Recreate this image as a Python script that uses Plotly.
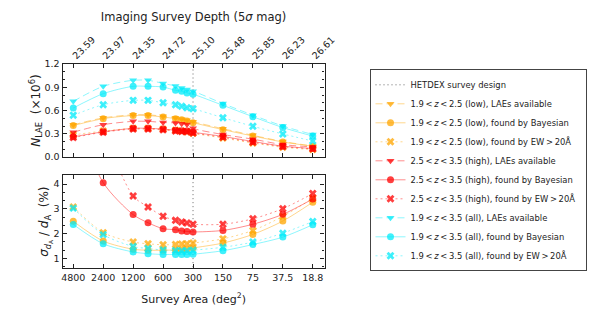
import plotly.graph_objects as go

# ---------------- data ----------------
area = [4800, 2400, 1200, 850, 600, 450, 390, 345, 300, 150, 75, 37.5, 18.75]
area_ticks = [4800, 2400, 1200, 600, 300, 150, 75, 37.5, 18.75]
area_ticklabels = ["4800", "2400", "1200", "600", "300", "150", "75", "37.5", "18.8"]
depth_ticklabels = ["23.59", "23.97", "24.35", "24.72", "25.10", "25.48", "25.85", "26.23", "26.61"]
hetdex_area = 300

# N_LAE (x 10^6)
low_avail = [0.415, 0.505, 0.545, 0.545, 0.525, 0.505, 0.49, 0.475, 0.455, 0.365, 0.28, 0.20, 0.142]
low_bayes = [0.405, 0.495, 0.535, 0.535, 0.516, 0.495, 0.482, 0.465, 0.443, 0.353, 0.271, 0.194, 0.138]
low_ew = [0.285, 0.335, 0.37, 0.37, 0.36, 0.345, 0.335, 0.325, 0.305, 0.245, 0.18, 0.125, 0.095]
high_avail = [0.32, 0.417, 0.46, 0.46, 0.445, 0.44, 0.43, 0.42, 0.37, 0.29, 0.23, 0.16, 0.13]
high_bayes = [0.26, 0.325, 0.37, 0.37, 0.36, 0.345, 0.34, 0.335, 0.32, 0.265, 0.20, 0.14, 0.11]
high_ew = [0.25, 0.32, 0.36, 0.36, 0.35, 0.335, 0.33, 0.325, 0.31, 0.255, 0.19, 0.135, 0.105]
all_avail = [0.718, 0.912, 0.99, 0.99, 0.95, 0.916, 0.89, 0.87, 0.85, 0.69, 0.54, 0.40, 0.29]
all_bayes = [0.632, 0.817, 0.912, 0.912, 0.903, 0.86, 0.848, 0.826, 0.81, 0.667, 0.52, 0.38, 0.27]
all_ew = [0.538, 0.675, 0.731, 0.731, 0.70, 0.675, 0.654, 0.636, 0.623, 0.507, 0.396, 0.297, 0.206]

# sigma_dA / dA (%)
low_bayes_err = [2.50, 1.70, 1.37, 1.33, 1.33, 1.34, 1.35, 1.37, 1.42, 1.62, 1.97, 2.51, 3.27]
low_ew_err = [3.08, 2.04, 1.66, 1.59, 1.55, 1.56, 1.58, 1.59, 1.62, 1.79, 2.13, 2.70, 3.43]
high_bayes_err = [7.0, 4.06, 2.77, 2.44, 2.20, 2.16, 2.11, 2.09, 2.07, 2.13, 2.38, 2.78, 3.40]
high_ew_err = [12.0, 6.3, 3.52, 3.08, 2.70, 2.54, 2.47, 2.43, 2.38, 2.38, 2.60, 3.01, 3.62]
all_bayes_err = [2.37, 1.59, 1.26, 1.19, 1.16, 1.16, 1.16, 1.16, 1.17, 1.31, 1.56, 1.86, 2.36]
all_ew_err = [3.03, 1.96, 1.48, 1.40, 1.34, 1.32, 1.31, 1.31, 1.33, 1.45, 1.66, 2.02, 2.49]

ORANGE = "rgba(255,165,0,{a})"
RED = "rgba(255,0,0,{a})"
CYAN = "rgba(0,235,250,{a})"

FONT = "DejaVu Sans"
W, H = 598, 313
OFF = 8  # page body margin offset


def px(xp):
    return (xp - OFF) / W


def py(yp):
    return (H - (yp - OFF)) / H


fig = go.Figure()


def add(xs, ys, color, symbol, dash, name, yaxis, showlegend):
    fig.add_trace(go.Scatter(
        x=xs, y=ys, mode="lines+markers", name=name,
        xaxis="x" if yaxis == "y" else "x2", yaxis=yaxis,
        line=dict(color=color.format(a=0.45), width=1, dash=dash, shape="spline", smoothing=0.8),
        marker=dict(symbol=symbol, size=7, color=color.format(a=0.75),
                    line=dict(width=0)),
        showlegend=showlegend, cliponaxis=True,
    ))


# HETDEX line
fig.add_trace(go.Scatter(x=[hetdex_area, hetdex_area], y=[-1, 2], mode="lines",
                         name="HETDEX survey design", xaxis="x", yaxis="y",
                         line=dict(color="rgba(90,90,90,0.9)", width=1, dash="1px,3px")))
fig.add_trace(go.Scatter(x=[hetdex_area, hetdex_area], y=[0, 20], mode="lines",
                         xaxis="x2", yaxis="y2", showlegend=False,
                         line=dict(color="rgba(90,90,90,0.9)", width=1, dash="1px,3px")))

DASH = "7px,4px"
DOT = "2px,3px"
TS = "&#8201;"
LT = TS + "&lt;" + TS
GT = TS + "&gt;" + TS
PAD = "&nbsp;&nbsp;"
series = [
    (low_avail, None, ORANGE, "triangle-down", DASH, f"1.9{LT}<i>z</i>{LT}2.5 (low), LAEs available"),
    (low_bayes, low_bayes_err, ORANGE, "circle", "solid", f"1.9{LT}<i>z</i>{LT}2.5 (low), found by Bayesian"),
    (low_ew, low_ew_err, ORANGE, "x", DOT, f"1.9{LT}<i>z</i>{LT}2.5 (low), found by EW{GT}20Å"),
    (high_avail, None, RED, "triangle-down", DASH, f"2.5{LT}<i>z</i>{LT}3.5 (high), LAEs available"),
    (high_bayes, high_bayes_err, RED, "circle", "solid", f"2.5{LT}<i>z</i>{LT}3.5 (high), found by Bayesian"),
    (high_ew, high_ew_err, RED, "x", DOT, f"2.5{LT}<i>z</i>{LT}3.5 (high), found by EW{GT}20Å{PAD}"),
    (all_avail, None, CYAN, "triangle-down", DASH, f"1.9{LT}<i>z</i>{LT}3.5 (all), LAEs available"),
    (all_bayes, all_bayes_err, CYAN, "circle", "solid", f"1.9{LT}<i>z</i>{LT}3.5 (all), found by Bayesian"),
    (all_ew, all_ew_err, CYAN, "x", DOT, f"1.9{LT}<i>z</i>{LT}3.5 (all), found by EW{GT}20Å"),
]
for top, bot, color, sym, dash, name in series:
    add(area, top, color, sym, dash, name, "y", True)
    if bot is not None:
        add(area, bot, color, sym, dash, name, "y2", False)

# invisible trace for top depth axis
fig.add_trace(go.Scatter(x=area_ticks, y=[0.5] * len(area_ticks), xaxis="x3", yaxis="y",
                         mode="markers", marker=dict(opacity=0), showlegend=False,
                         hoverinfo="skip"))

xrange = [3.7875, 1.155]
XDOM = [px(62.7), px(324.5)]
common_x = dict(type="log", range=xrange, domain=XDOM, tickvals=area_ticks,
                showline=True, linecolor="#222", linewidth=1.4, mirror="ticks",
                ticks="inside", ticklen=4, tickcolor="#222", showgrid=False, zeroline=False,
                automargin=False,
                tickfont=dict(family=FONT, size=9.5, color="#222"))
common_y = dict(showline=True, linecolor="#222", linewidth=1.4, mirror="ticks",
                ticks="inside", ticklen=4, tickcolor="#222", showgrid=False, zeroline=False,
                automargin=False,
                tickfont=dict(family=FONT, size=9.5, color="#222"))

fig.update_layout(
    width=W, height=H,
    margin=dict(l=0, r=0, t=0, b=0, autoexpand=False),
    paper_bgcolor="white", plot_bgcolor="white",
    font=dict(family=FONT, color="#222"),
    xaxis=dict(**common_x, anchor="y", showticklabels=False),
    xaxis2=dict(**common_x, anchor="y2", ticktext=area_ticklabels,
                title=dict(text="Survey Area (deg<sup>2</sup>)", font=dict(family=FONT, size=11), standoff=13)),
    xaxis3=dict(type="log", range=xrange, overlaying="x", side="top", anchor="y",
                tickvals=area_ticks, ticktext=depth_ticklabels, tickangle=-45,
                ticks="inside", ticklen=4, tickcolor="#222", showgrid=False, zeroline=False,
                showline=False, automargin=False, tickfont=dict(family=FONT, size=9.5, color="#222"),
                title=dict(text="Imaging Survey Depth (5<i>σ</i> mag)", font=dict(family=FONT, size=11.5), standoff=10)),
    yaxis=dict(**common_y, domain=[py(157), py(64)], range=[0, 1.2],
               tickvals=[0.0, 0.3, 0.6, 0.9, 1.2], ticktext=["0.0", "0.3", "0.6", "0.9", "1.2"],
               minor=dict(ticks="inside", ticklen=2, dtick=0.1, tickcolor="#222"),
               title=dict(text="<i>N</i><sub>LAE</sub>  (×10<sup>6</sup>)", font=dict(family=FONT, size=12), standoff=0)),
    yaxis2=dict(**common_y, domain=[py(268.3), py(175)], range=[0.6, 4.37],
                tickvals=[1, 2, 3, 4],
                minor=dict(ticks="inside", ticklen=2, dtick=1 / 3, tickcolor="#222"),
                title=dict(text="<i>σ</i><sub><i>d</i><sub>A</sub></sub> / <i>d</i><sub>A</sub>  (%)", font=dict(family=FONT, size=12), standoff=0)),
    legend=dict(x=px(369.5), y=py(69.3), xanchor="left", yanchor="top",
                bordercolor="#444", borderwidth=1, bgcolor="white",
                font=dict(family=FONT, size=8.4, color="#222"), tracegroupgap=0,
                itemwidth=30),
    showlegend=True,
)

fig.write_html("out.html")
